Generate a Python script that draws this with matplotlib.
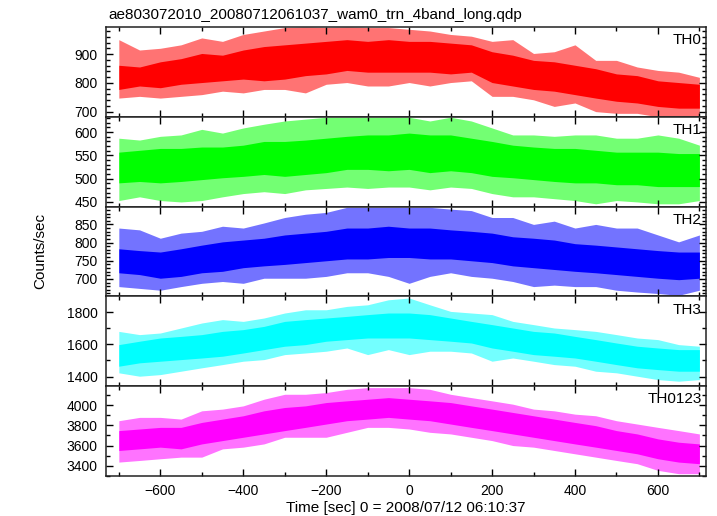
import numpy as np
import matplotlib
matplotlib.use("Agg")
import matplotlib.pyplot as plt
from matplotlib.ticker import MultipleLocator
from matplotlib.colors import to_rgb

plt.rcParams['font.family'] = ['Liberation Sans', 'DejaVu Sans']

# time grid of the read-off envelope (sec from 2008/07/12 06:10:37)
t = np.arange(-700, 701, 50)

bands = ["TH0", "TH1", "TH2", "TH3", "TH0123"]
colors = ["#ff0000", "#00ff00", "#0000ff", "#00ffff", "#ff00ff"]

# counts/sec: dense core and outer spikes, per band
th0_outer_hi = [950, 914, 920, 932, 956, 944, 968, 980, 992, 994, 992, 994, 992, 992, 986,
                980, 968, 962, 944, 950, 902, 908, 932, 878, 878, 855, 843, 837, 819]
th0_core_hi = [861, 855, 873, 884, 902, 896, 914, 926, 932, 938, 944, 950, 944, 950, 944,
               944, 938, 932, 908, 896, 878, 873, 861, 849, 831, 825, 807, 801, 795]
th0_core_lo = [777, 789, 783, 795, 801, 807, 813, 807, 813, 825, 831, 843, 837, 837, 837,
               837, 831, 837, 801, 789, 777, 771, 759, 747, 736, 730, 718, 712, 712]
th0_outer_lo = [747, 753, 747, 753, 759, 771, 765, 777, 777, 765, 795, 801, 789, 789, 801,
                789, 801, 807, 753, 753, 741, 718, 730, 700, 694, 694, 682, 682, 682]

th1_outer_hi = [587, 583, 591, 594, 606, 598, 609, 617, 624, 628, 632, 632, 632, 632, 632,
                624, 632, 624, 609, 594, 594, 591, 594, 594, 587, 587, 594, 587, 572]
th1_core_hi = [557, 561, 565, 565, 568, 568, 572, 580, 580, 583, 587, 591, 594, 594, 598,
               594, 594, 587, 580, 572, 568, 565, 565, 561, 557, 557, 557, 554, 554]
th1_core_lo = [491, 494, 491, 494, 498, 502, 505, 509, 505, 509, 513, 520, 520, 517, 520,
               513, 517, 513, 505, 502, 498, 494, 491, 491, 487, 487, 483, 483, 483]
th1_outer_lo = [453, 461, 453, 450, 453, 461, 468, 472, 468, 476, 479, 482, 479, 482, 482,
                476, 482, 479, 468, 461, 461, 457, 453, 446, 453, 450, 446, 446, 453]

th2_outer_hi = [840, 835, 812, 826, 831, 845, 840, 854, 869, 878, 883, 897, 897, 897, 897,
                897, 892, 888, 869, 869, 850, 859, 840, 850, 840, 840, 821, 802, 821]
th2_core_hi = [783, 778, 774, 783, 793, 802, 807, 812, 821, 826, 831, 840, 840, 845, 840,
               840, 835, 831, 826, 816, 812, 807, 797, 793, 788, 783, 778, 774, 774]
th2_core_lo = [717, 712, 702, 707, 717, 721, 731, 736, 740, 745, 750, 755, 755, 759, 759,
               755, 755, 750, 745, 736, 731, 726, 721, 717, 712, 707, 702, 698, 702]
th2_outer_lo = [679, 674, 669, 679, 688, 693, 688, 702, 702, 702, 707, 717, 717, 707, 688,
                707, 717, 707, 702, 693, 679, 683, 679, 679, 669, 664, 660, 655, 669]

th3_outer_hi = [1680, 1660, 1670, 1701, 1732, 1753, 1742, 1763, 1794, 1814, 1814, 1835, 1845, 1876, 1887,
                1845, 1804, 1794, 1784, 1742, 1722, 1701, 1691, 1680, 1660, 1639, 1629, 1598, 1588]
th3_core_hi = [1598, 1619, 1639, 1649, 1660, 1680, 1691, 1711, 1742, 1753, 1763, 1773, 1784, 1794, 1794,
               1784, 1763, 1742, 1722, 1701, 1680, 1670, 1649, 1629, 1608, 1588, 1577, 1567, 1567]
th3_core_lo = [1464, 1485, 1495, 1505, 1515, 1526, 1546, 1567, 1588, 1598, 1619, 1629, 1639, 1639, 1639,
               1629, 1619, 1608, 1577, 1557, 1536, 1526, 1515, 1495, 1474, 1454, 1443, 1433, 1433]
th3_outer_lo = [1423, 1402, 1412, 1433, 1454, 1474, 1495, 1505, 1536, 1546, 1557, 1577, 1536, 1567, 1536,
                1557, 1557, 1546, 1495, 1515, 1495, 1474, 1464, 1433, 1423, 1402, 1381, 1371, 1381]

th0123_outer_hi = [3846, 3879, 3879, 3862, 3944, 3961, 3993, 4059, 4108, 4108, 4125, 4157, 4174, 4174, 4174,
                   4157, 4108, 4075, 4043, 4010, 3961, 3944, 3911, 3895, 3846, 3813, 3780, 3748, 3715]
th0123_core_hi = [3748, 3764, 3780, 3780, 3829, 3862, 3895, 3944, 3977, 3993, 4026, 4043, 4059, 4075, 4059,
                  4043, 4026, 3993, 3961, 3928, 3895, 3862, 3829, 3797, 3748, 3715, 3666, 3633, 3616]
th0123_core_lo = [3551, 3567, 3584, 3567, 3616, 3649, 3682, 3715, 3748, 3780, 3813, 3846, 3862, 3879, 3862,
                  3846, 3813, 3780, 3748, 3715, 3682, 3649, 3616, 3584, 3551, 3518, 3469, 3436, 3420]
th0123_outer_lo = [3436, 3452, 3469, 3485, 3485, 3567, 3584, 3616, 3682, 3682, 3682, 3731, 3780, 3780, 3764,
                   3731, 3715, 3682, 3649, 3600, 3584, 3551, 3518, 3485, 3452, 3420, 3354, 3321, 3321]

envelopes = [
    (th0_outer_hi, th0_core_hi, th0_core_lo, th0_outer_lo),
    (th1_outer_hi, th1_core_hi, th1_core_lo, th1_outer_lo),
    (th2_outer_hi, th2_core_hi, th2_core_lo, th2_outer_lo),
    (th3_outer_hi, th3_core_hi, th3_core_lo, th3_outer_lo),
    (th0123_outer_hi, th0123_core_hi, th0123_core_lo, th0123_outer_lo),
]

ylims = [(682, 994), (440, 633), (652, 899), (1340, 1897), (3298, 4188)]
ymajor = [100, 50, 50, 200, 200]
yminor = [20, 10, 10, 100, 100]

fig, axes = plt.subplots(5, 1, sharex=True, figsize=(7.17, 5.16), dpi=100)
fig.subplots_adjust(left=0.1478, right=0.9847, bottom=0.0775, top=0.9477, hspace=0)

for ax, name, col, env, yl, ma, mi in zip(axes, bands, colors, envelopes, ylims, ymajor, yminor):
    ohi, chi, clo, olo = env
    light = tuple(0.45 + 0.55 * c for c in to_rgb(col))
    ax.fill_between(t, olo, ohi, color=light, lw=0)
    ax.fill_between(t, clo, chi, color=col, lw=0)
    ax.set_ylim(*yl)
    ax.set_xlim(-731, 716)
    ax.yaxis.set_major_locator(MultipleLocator(ma))
    ax.yaxis.set_minor_locator(MultipleLocator(mi))
    ax.xaxis.set_major_locator(MultipleLocator(200))
    ax.xaxis.set_minor_locator(MultipleLocator(100))
    ax.tick_params(which='both', direction='in', top=True, right=True, labelsize=10, pad=6)
    ax.tick_params(which='major', length=5, width=1)
    ax.tick_params(which='minor', length=3, width=1)
    for s in ax.spines.values():
        s.set_linewidth(1.1)
        s.set_color('#222222')
    ax.text(0.993, 0.93, name, transform=ax.transAxes, ha='right', va='top', fontsize=11)

axes[-1].set_xlabel("Time [sec] 0 = 2008/07/12 06:10:37", fontsize=11, labelpad=2)
fig.text(40 / 717, 1 - 251 / 516, "Counts/sec", rotation=90, ha='center', va='center', fontsize=11)
fig.text(108 / 717, 1 - 15 / 516, "ae803072010_20080712061037_wam0_trn_4band_long.qdp",
         ha='left', va='center', fontsize=11)

fig.savefig("out.png", dpi=100)
